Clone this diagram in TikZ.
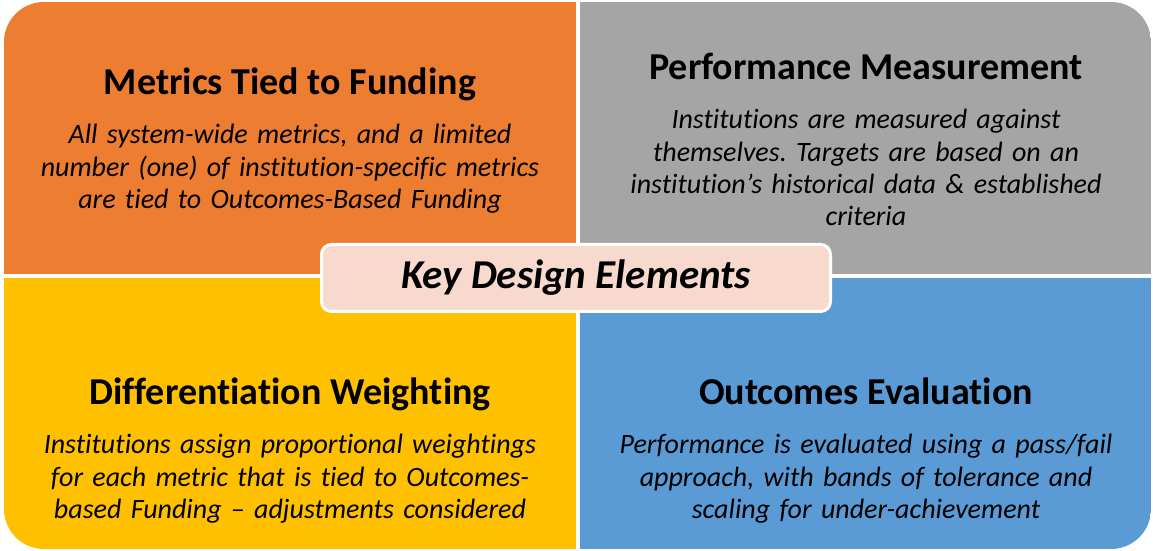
\documentclass[tikz,border=0pt]{standalone}
\usepackage{fontspec}
\setmainfont{Carlito}[Ligatures=NoCommon]
\usetikzlibrary{positioning}
\definecolor{qorange}{HTML}{ED7D31}
\definecolor{qgray}{HTML}{A5A5A5}
\definecolor{qyellow}{HTML}{FFC000}
\definecolor{qblue}{HTML}{5B9BD5}
\definecolor{qpink}{HTML}{F8D9CE}
\frenchspacing

\begin{document}
\begin{tikzpicture}[
				x=1pt, y=1pt,
				T/.style = {anchor=base, inner sep=0pt,% titles of the quadrants
					font=\fontsize{38}{44}\selectfont\bfseries},
				D/.style = {anchor=base, inner sep=0pt, text width=570pt, align=center,% texts below them
					font=\fontsize{28}{32.3}\selectfont\itshape},
				K/.style = {draw=white, line width=3pt, fill=qpink, rounded corners=10pt,
					minimum width=509pt, minimum height=67pt, inner sep=0pt,
					font=\fontsize{41}{46}\selectfont\bfseries\itshape},
				]
				\useasboundingbox (0,0) rectangle (1153,551);
				\begin{scope}
					\clip[rounded corners=40pt] (4,2) rectangle (1151,549);
					\fill[qorange] (4,277) rectangle (576,549);
					\fill[qgray]   (580,277) rectangle (1151,549);
					\fill[qyellow] (4,2) rectangle (576,273);
					\fill[qblue]   (580,2) rectangle (1151,273);
				\end{scope}
				% top left
				\node[T] (tMetrics) at (290,456) {Metrics Tied to Funding};
				\node[D] (dMetrics) at (290,407) {All system-wide metrics, and a limited\\
					number (one) of institution-specific metrics\\
					are tied to Outcomes-Based Funding};
				% top right
				\node[T] (tPerform) at (866,471) {Performance Measurement};
				\node[D] (dPerform) at (866,422) {Institutions are measured against\\
					themselves. Targets are based on an\\
					institution’s historical data \& established\\
					criteria};
				% bottom left
				\node[T] (tDiff) at (290,146) {Differentiation Weighting};
				\node[D] (dDiff) at (290,97) {Institutions assign proportional weightings\\
					for each metric that is tied to Outcomes-\\
					based Funding -- adjustments considered};
				% bottom right
				\node[T] (tEval) at (866,146) {Outcomes Evaluation};
				\node[D] (dEval) at (866,97) {Performance is evaluated using a pass/fail\\
					approach, with bands of tolerance and\\
					scaling for under-achievement};
				% centre
				\node[K] (key) at (576,273) {Key Design Elements};
			\end{tikzpicture}
\end{document}
